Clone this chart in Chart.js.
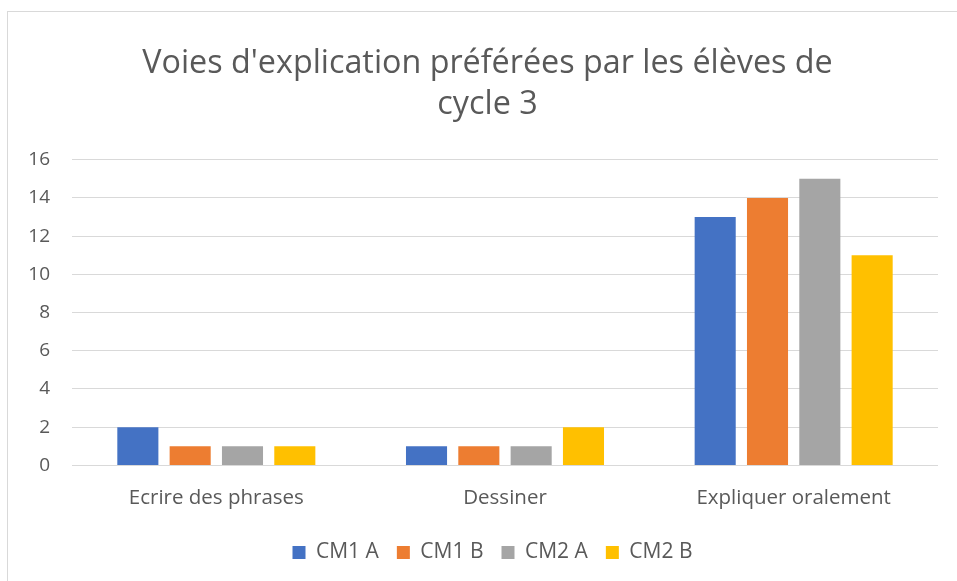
<!DOCTYPE html>
<html lang="fr">
<head>
<meta charset="utf-8">
<title>Voies d'explication</title>
<script src="https://cdn.jsdelivr.net/npm/chart.js@4/dist/chart.umd.min.js"></script>
<style>
    html, body { margin: 0; padding: 0; background: #fff; overflow: hidden; }
    #frame { position: absolute; left: 7px; top: 11px; width: 1000px; height: 700px; border: 1px solid #d9d9d9; }
    #chart { position: absolute; left: 0; top: 0; }
</style>
</head>
<body>
<div id="frame"></div>
<canvas id="chart" width="957" height="581"></canvas>
<script>
// données
const categories = ['Ecrire des phrases', 'Dessiner', 'Expliquer oralement'];
const seriesNames = ['CM1 A', 'CM1 B', 'CM2 A', 'CM2 B'];
const cm1a = [2, 1, 13];
const cm1b = [1, 1, 14];
const cm2a = [1, 1, 15];
const cm2b = [1, 2, 11];
const seriesColors = ['#4472C4', '#ED7D31', '#A5A5A5', '#FFC000'];
const yTicks = [0, 2, 4, 6, 8, 10, 12, 14, 16];

const textColor = '#595959';
const fontFamily = "'Open Sans', 'Liberation Sans', sans-serif";

const seriesValues = [cm1a, cm1b, cm2a, cm2b];

// le titre et la légende sont centrés sur tout le cadre, pas seulement sur la zone de tracé
const shiftBlocks = {
    id: 'shiftBlocks',
    afterLayout: function(chart) {
        if (chart.titleBlock) {
            chart.titleBlock.left += 18.5;
            chart.titleBlock.right += 18.5;
        }
        if (chart.legend) {
            chart.legend.left += 23.5;
            chart.legend.right += 23.5;
        }
    }
};

const ctx = document.getElementById('chart').getContext('2d');
new Chart(ctx, {
    type: 'bar',
    data: {
        labels: categories,
        datasets: seriesNames.map(function(name, i) {
            return {
                label: name,
                data: seriesValues[i],
                backgroundColor: seriesColors[i],
                categoryPercentage: 0.725,
                barPercentage: 0.785
            };
        })
    },
    plugins: [shiftBlocks],
    options: {
        responsive: false,
        animation: false,
        layout: { padding: { left: 0, right: 19, top: 0, bottom: 8 } },
        plugins: {
            title: {
                display: true,
                text: ["Voies d'explication préférées par les élèves de", 'cycle 3'],
                color: textColor,
                font: { family: fontFamily, size: 32.3, weight: 'normal', lineHeight: 1.28 },
                padding: { top: 43, bottom: 34 }
            },
            legend: {
                position: 'bottom',
                labels: {
                    color: textColor,
                    font: { family: fontFamily, size: 21 },
                    boxWidth: 13,
                    boxHeight: 13,
                    padding: 18
                }
            },
            tooltip: { enabled: false }
        },
        scales: {
            x: {
                afterFit: function(scale) { scale.height -= 6; },
                grid: { display: false, drawTicks: false },
                border: { display: false },
                ticks: {
                    color: textColor,
                    font: { family: fontFamily, size: 20.5 },
                    padding: 20
                }
            },
            y: {
                min: 0,
                max: 16,
                afterBuildTicks: function(scale) {
                    scale.ticks = yTicks.map(function(v) { return { value: v }; });
                },
                afterFit: function(scale) { scale.width = 72; },
                grid: { color: '#d9d9d9', lineWidth: 1, drawTicks: false },
                border: { display: false },
                ticks: {
                    color: textColor,
                    font: { family: fontFamily, size: 19 },
                    padding: 22
                }
            }
        }
    }
});
</script>
</body>
</html>
